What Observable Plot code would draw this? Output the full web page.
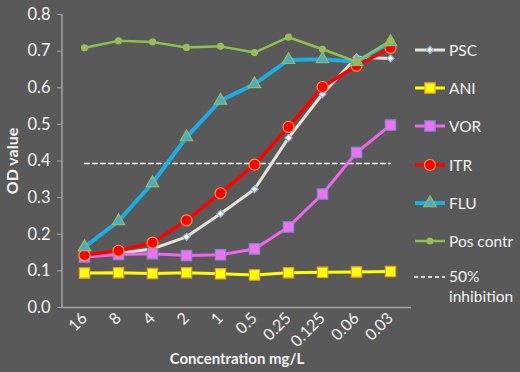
<!DOCTYPE html>
<html><head><meta charset="utf-8">
<script src="https://cdn.jsdelivr.net/npm/d3@7"></script>
<script src="https://cdn.jsdelivr.net/npm/@observablehq/plot@0.6"></script>
<style>
html,body{margin:0;padding:0;background:#595959;}
#chart{position:relative;width:520px;height:372px;background:#595959;font-family:Lato,"Open Sans",sans-serif;overflow:hidden;}
#chart svg.plot{position:absolute;left:0;top:0;}
#legend{position:absolute;left:414px;top:31px;color:#f2f2f2;font-size:15.5px;}
#legend .row{display:flex;align-items:center;height:38.2px;}
#legend .row svg{margin-right:3px;}
#legend .multi{align-items:flex-start;height:auto;line-height:20px;margin-top:6px;}
#legend .multi svg{margin-top:3px;}
</style></head><body><div id="chart"></div>
<script>
const concentrations = ["16","8","4","2","1","0.5","0.25","0.125","0.06","0.03"];
const psc = [0.140,0.148,0.160,0.193,0.256,0.323,0.463,0.583,0.683,0.680];
const ani = [0.094,0.095,0.093,0.095,0.092,0.089,0.095,0.096,0.097,0.098];
const vor = [0.138,0.145,0.147,0.142,0.144,0.160,0.220,0.310,0.423,0.498];
const itr = [0.143,0.155,0.177,0.238,0.312,0.390,0.493,0.602,0.660,0.709];
const flu = [0.165,0.236,0.340,0.465,0.565,0.610,0.676,0.678,0.671,0.725];
const posContr = [0.709,0.728,0.725,0.710,0.713,0.696,0.738,0.705,0.671,0.728];
const inhibition50 = 0.393;
const yTicks = [0,0.1,0.2,0.3,0.4,0.5,0.6,0.7,0.8];
const seriesNames = ["PSC","ANI","VOR","ITR","FLU","Pos contr"];
const seriesValues = [psc, ani, vor, itr, flu, posContr];

const styles = {
  "PSC":      {line:"#e6e2d6", sw:3,   symbol:"diamond2", r:3.2, fill:"#ffffff", stroke:"#8db3e2"},
  "ANI":      {line:"#ffff00", sw:3,   symbol:"square",   r:5.8, fill:"#ffff00", stroke:"#f0a030"},
  "VOR":      {line:"#ee66ee", sw:3,   symbol:"square",   r:5.8, fill:"#f070f0", stroke:"#7f8fd8"},
  "ITR":      {line:"#ff0000", sw:3.5, symbol:"circle",   r:5.5, fill:"#ff0000", stroke:"#f79646"},
  "FLU":      {line:"#1aaee5", sw:4,   symbol:"triangle", r:4.6, fill:"#4bacc6", stroke:"#9bbb59"},
  "Pos contr":{line:"#8cc152", sw:2.5, symbol:"circle",   r:3.0, fill:"#9bbb59", stroke:"#9bbb59"}
};

const rows = seriesNames.flatMap((name, i) =>
  concentrations.map((c, j) => ({series: name, conc: c, od: seriesValues[i][j]})));
const inhibitionRows = concentrations.map(c => ({conc: c, od: inhibition50}));

const marks = [
  Plot.ruleY([0], {stroke:"#a6a6a6", strokeWidth:1.5}),
  Plot.axisY({ticks: yTicks, tickFormat: d3.format(".1f"), tickSize: 5, tickPadding: 7,
    fontSize: 16.5, color: "#f2f2f2", stroke: "#a6a6a6", label: "OD value",
    labelAnchor: "center", labelOffset: 56, labelArrow: false}),
  Plot.axisX({tickRotate: -45, tickSize: 0, tickPadding: 8, fontSize: 16, color: "#f2f2f2",
    label: "Concentration mg/L", labelAnchor: "center", labelOffset: 56, labelArrow: false}),
  Plot.line(inhibitionRows, {x: "conc", y: "od", stroke: "#ffffff", strokeWidth: 1.5, strokeDasharray: "5,3"})
];
for (const name of seriesNames) {
  const s = styles[name];
  const data = rows.filter(d => d.series === name);
  marks.push(Plot.line(data, {x: "conc", y: "od", stroke: s.line, strokeWidth: s.sw}));
  marks.push(Plot.dot(data, {x: "conc", y: "od", symbol: s.symbol, r: s.r, fill: s.fill, stroke: s.stroke, strokeWidth: 1.2}));
}

const chart = Plot.plot({
  width: 520, height: 372,
  marginLeft: 62, marginRight: 109, marginTop: 14, marginBottom: 65,
  style: {background: "#595959", fontFamily: "Lato, 'Open Sans', sans-serif", color: "#f2f2f2"},
  x: {type: "point", domain: concentrations, padding: 0.5},
  y: {domain: [0, 0.8]},
  marks
});
chart.classList.add("plot");
document.getElementById("chart").appendChild(chart);

// y axis line along left edge of frame
const svg = d3.select(chart);
svg.append("line").attr("x1", 62).attr("x2", 62).attr("y1", 14).attr("y2", 372 - 65)
  .attr("stroke", "#a6a6a6").attr("stroke-width", 1.5);
svg.selectAll("[aria-label='y-axis label'] text")
  .attr("font-weight", "bold").attr("font-size", 16).attr("fill", "#f2f2f2");
svg.selectAll("[aria-label='x-axis label'] text")
  .attr("font-weight", "bold").attr("font-size", 15).attr("fill", "#f2f2f2");

// legend
const legend = d3.select("#chart").append("div").attr("id", "legend");
const symbolMap = {circle: d3.symbolCircle, square: d3.symbolSquare, triangle: d3.symbolTriangle, diamond2: d3.symbolDiamond2 || d3.symbolSquare};
for (const name of seriesNames) {
  const s = styles[name];
  const row = legend.append("div").attr("class", "row");
  const sw = row.append("svg").attr("width", 32).attr("height", 16);
  sw.append("line").attr("x1", 1).attr("x2", 31).attr("y1", 8).attr("y2", 8)
    .attr("stroke", s.line).attr("stroke-width", s.sw);
  sw.append("path").attr("transform", "translate(16,8)")
    .attr("d", d3.symbol(symbolMap[s.symbol], Math.PI * s.r * s.r)())
    .attr("fill", s.fill).attr("stroke", s.stroke).attr("stroke-width", 1.2);
  row.append("span").text(name);
}
const last = legend.append("div").attr("class", "row multi");
const sw = last.append("svg").attr("width", 32).attr("height", 16);
sw.append("line").attr("x1", 0).attr("x2", 31).attr("y1", 8).attr("y2", 8)
  .attr("stroke", "#ffffff").attr("stroke-width", 1.5).attr("stroke-dasharray", "4,3");
last.append("span").html("50%<br>inhibition");
</script>
</body></html>
